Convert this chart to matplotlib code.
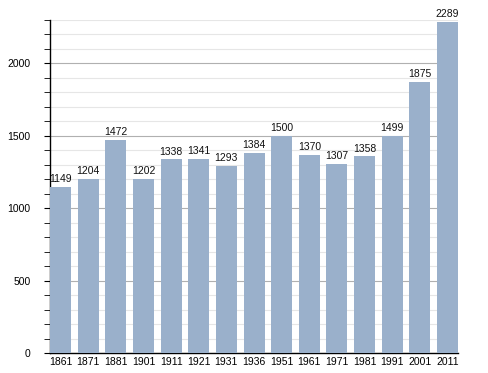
import matplotlib
matplotlib.use('Agg')
import matplotlib.pyplot as plt
from matplotlib.ticker import MultipleLocator

years = ['1861', '1871', '1881', '1901', '1911', '1921', '1931', '1936',
         '1951', '1961', '1971', '1981', '1991', '2001', '2011']
population = [1149, 1204, 1472, 1202, 1338, 1341, 1293, 1384,
              1500, 1370, 1307, 1358, 1499, 1875, 2289]

plt.rcParams['font.family'] = ['Liberation Sans', 'DejaVu Sans']

fig = plt.figure(figsize=(4.88, 3.73), dpi=100)
ax = fig.add_axes([0.1025, 0.0536, 0.836, 0.8928])

w = 0.76
x = list(range(len(years)))
ax.bar(x, population, width=w, color='#9ab0cb', zorder=3)
for xi, v in zip(x, population):
    ax.text(xi, v + 18, str(v), ha='center', va='bottom', fontsize=7.5, color='#111111')

ax.set_xlim(-w / 2, len(years) - 1 + w / 2)
ax.set_ylim(0, 2300)
ax.set_xticks(x)
ax.set_xticklabels(years)
ax.yaxis.set_major_locator(MultipleLocator(500))
ax.yaxis.set_minor_locator(MultipleLocator(100))
ax.grid(axis='y', which='major', color='#b0b0b0', linewidth=0.8, zorder=0)
ax.grid(axis='y', which='minor', color='#e6e6e6', linewidth=0.8, zorder=0)
ax.tick_params(axis='x', length=0, pad=3, labelsize=7.5)
ax.tick_params(axis='y', which='major', length=4, labelsize=7.5, pad=10)
ax.tick_params(axis='y', which='minor', length=4)
for s in ['top', 'right']:
    ax.spines[s].set_visible(False)
ax.spines['left'].set_linewidth(1.0)
ax.spines['bottom'].set_linewidth(1.0)

fig.savefig('out.png', dpi=100)
